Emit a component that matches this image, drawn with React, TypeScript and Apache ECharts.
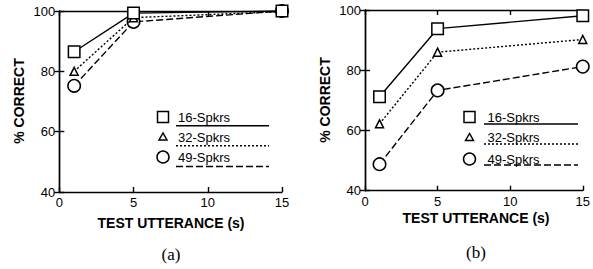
import React, { useEffect, useRef } from "react";
import * as echarts from "echarts";

const xValues = [1, 5, 15];
const aSeries16 = [86.5, 99.3, 100];
const aSeries32 = [80, 97.8, 99.8];
const aSeries49 = [75.2, 96.4, 100];
const bSeries16 = [71.2, 93.8, 98.1];
const bSeries32 = [62.2, 86, 90.2];
const bSeries49 = [48.8, 73.3, 81.2];
const seriesNames = ["16-Spkrs", "32-Spkrs", "49-Spkrs"];
const xTitle = "TEST UTTERANCE (s)";
const yTitle = "% CORRECT";
const captions = ["(a)", "(b)"];

const FONT = "Liberation Sans, Arial, Helvetica, sans-serif";

export default function App() {
  const ref = useRef<HTMLDivElement>(null);
  useEffect(() => {
    if (!ref.current) return;
    const chart = echarts.init(ref.current, null, { renderer: "svg" });
    const grids = [
      { left: 59.3, top: 11, width: 222.7, height: 181 },
      { left: 365, top: 10, width: 222.7, height: 180.7 },
    ];
    const styles = [
      { type: "solid" as any, sym: "rect", size: 11.5 },
      { type: [2, 2] as any, sym: "triangle", size: 8 },
      { type: [7, 3] as any, sym: "circle", size: 12.5 },
    ];
    const axisCommon = {
      type: "value",
      axisLine: { show: true, lineStyle: { color: "#000", width: 1.4 } },
      axisTick: { show: true, inside: true, length: 5, lineStyle: { color: "#000", width: 1.4 } },
      splitLine: { show: false },
    };
    const xAxes: any[] = [];
    const yAxes: any[] = [];
    grids.forEach((_, gi) => {
      xAxes.push({
        ...axisCommon, gridIndex: gi, min: 0, max: 15, interval: 5, position: "bottom",
        axisLabel: { color: "#000", fontFamily: FONT, fontSize: 13, margin: 4 },
      });
      xAxes.push({
        ...axisCommon, gridIndex: gi, min: 0, max: 15, interval: 5, position: "top",
        axisLabel: { show: false },
      });
      yAxes.push({
        ...axisCommon, gridIndex: gi, min: 40, max: 100, interval: 20, position: "left",
        axisLabel: { color: "#000", fontFamily: FONT, fontSize: 13, margin: 4 },
      });
      yAxes.push({
        ...axisCommon, gridIndex: gi, min: 40, max: 100, interval: 20, position: "right",
        axisLabel: { show: false },
      });
    });
    const data = [
      [aSeries16, aSeries32, aSeries49],
      [bSeries16, bSeries32, bSeries49],
    ];
    const series: any[] = [];
    data.forEach((panel, gi) => {
      panel.forEach((vals, si) => {
        series.push({
          type: "line",
          name: seriesNames[si] + "-" + gi,
          xAxisIndex: gi * 2,
          yAxisIndex: gi * 2,
          data: xValues.map((x, i) => [x, vals[i]]),
          symbol: styles[si].sym,
          symbolSize: styles[si].size,
          showAllSymbol: true,
          clip: false,
          itemStyle: { color: "#fff", borderColor: "#000", borderWidth: 1.5 },
          lineStyle: { color: "#000", width: 1.4, type: styles[si].type },
          z: 3 - si,
        });
      });
    });

    const legendPos = [
      { mx: 163, tx: 178, lx1: 176, lx2: 269, rows: [117, 137, 157], lines: [125.7, 145.7, 166.5] },
      { mx: 469.5, tx: 487.5, lx1: 484, lx2: 578, rows: [117, 137.5, 159], lines: [124, 144, 165] },
    ];
    const graphic: any[] = [];
    legendPos.forEach((lp) => {
      lp.rows.forEach((ry, si) => {
        if (si === 0) {
          graphic.push({ type: "rect", shape: { x: lp.mx - 5.5, y: ry - 5.5, width: 11, height: 11 }, style: { fill: "#fff", stroke: "#000", lineWidth: 1.5 } });
        } else if (si === 1) {
          graphic.push({ type: "polygon", shape: { points: [[lp.mx, ry - 4], [lp.mx - 4, ry + 3], [lp.mx + 4, ry + 3]] }, style: { fill: "#fff", stroke: "#000", lineWidth: 1.5 } });
        } else {
          graphic.push({ type: "circle", shape: { cx: lp.mx, cy: ry, r: 6 }, style: { fill: "#fff", stroke: "#000", lineWidth: 1.5 } });
        }
        graphic.push({ type: "text", x: lp.tx, y: ry, style: { text: seriesNames[si], font: `13px ${FONT}`, fill: "#000", verticalAlign: "middle", align: "left" } });
        graphic.push({ type: "line", shape: { x1: lp.lx1, y1: lp.lines[si], x2: lp.lx2, y2: lp.lines[si] }, style: { stroke: "#000", lineWidth: 1.4, lineDash: si === 0 ? null : si === 1 ? [2, 2] : [7, 3] } });
      });
    });
    const titlePos = [
      { yx: 19, yy: 101, xx: 171, xy: 223, cx: 171, cy: 254 },
      { yx: 325, yy: 100, xx: 476, xy: 218, cx: 476, cy: 252 },
    ];
    titlePos.forEach((tp, i) => {
      graphic.push({ type: "text", x: tp.yx, y: tp.yy, rotation: Math.PI / 2, style: { text: yTitle, font: `bold 14px ${FONT}`, fill: "#000", align: "center", verticalAlign: "middle" } });
      graphic.push({ type: "text", x: tp.xx, y: tp.xy, style: { text: xTitle, font: `bold 14px ${FONT}`, fill: "#000", align: "center", verticalAlign: "middle" } });
      graphic.push({ type: "text", x: tp.cx, y: tp.cy, style: { text: captions[i], font: `17px Liberation Serif, Times New Roman, serif`, fill: "#000", align: "center", verticalAlign: "middle" } });
    });

    chart.setOption({
      animation: false,
      backgroundColor: "#fff",
      grid: grids,
      xAxis: xAxes,
      yAxis: yAxes,
      series,
      graphic,
    });
    return () => chart.dispose();
  }, []);
  return (
    <div
      ref={ref}
      style={{ position: "fixed", left: 0, top: 0, width: 593, height: 269 }}
    />
  );
}
